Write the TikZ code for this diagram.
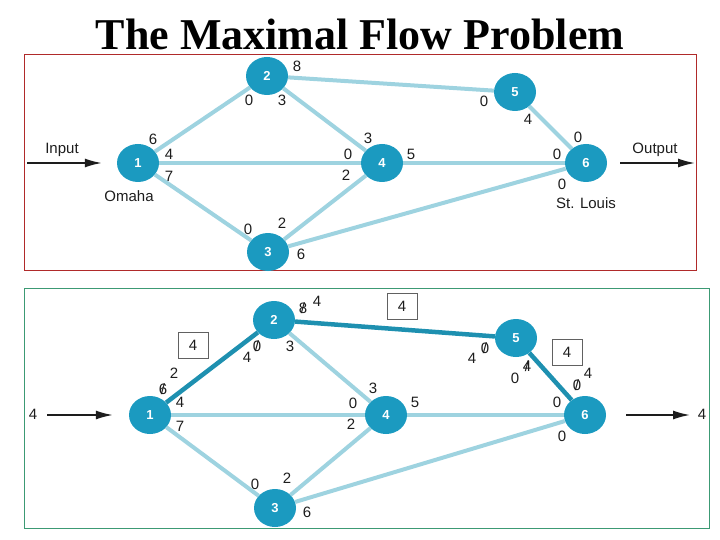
\documentclass[tikz,border=0pt]{standalone}
\usepackage{fontspec}
\setmainfont{Liberation Serif}
\setsansfont{Liberation Sans}
\usetikzlibrary{arrows.meta, positioning, shapes.geometric}
\definecolor{ink}{HTML}{1D1D1D}
\definecolor{cityfill}{HTML}{1B9AC0}
\definecolor{pipecol}{HTML}{9ED3E0}
\definecolor{flowcol}{HTML}{1E90B0}
\definecolor{topframe}{HTML}{B02A2A}
\definecolor{botframe}{HTML}{3C9A74}
\newcommand{\crossed}[1]{\ooalign{#1\cr\hidewidth/\hidewidth}}

\begin{document}
\begin{tikzpicture}[x=1pt, y=-1pt,
  city/.style={ellipse, fill=cityfill, minimum width=42pt, minimum height=38pt,
               inner sep=0pt, text=white, font=\sffamily\bfseries\fontsize{13}{13}\selectfont},
  pipe/.style={draw=pipecol, line width=4pt},
  used/.style={draw=flowcol, line width=4.5pt},
  num/.style={font=\sffamily\fontsize{15}{15}\selectfont, text=ink, inner sep=0pt},
  tag/.style={num, draw=ink!70, minimum width=30pt, minimum height=26pt},
  arr/.style={-{Latex[length=17pt, width=9pt]}, line width=1.6pt, draw=ink}
]
\useasboundingbox (0,0) rectangle (720,540);
\node[font=\bfseries\fontsize{44}{44}\selectfont, anchor=base] (title) at (360,50) {The Maximal Flow Problem};

% original network
\draw[topframe, thin] (24,54) rectangle (696,270);
\node[city] (a1) at (138,163) {1};
\node[city] (a2) at (267,76) {2};
\node[city] (a3) at (268,252) {3};
\node[city] (a4) at (382,163) {4};
\node[city] (a5) at (515,92) {5};
\node[city] (a6) at (586,163) {6};
\draw[pipe] (a1) -- (a2);
\draw[pipe] (a1) -- (a4);
\draw[pipe] (a1) -- (a3);
\draw[pipe] (a2) -- (a5);
\draw[pipe] (a2) -- (a4);
\draw[pipe] (a3) -- (a4);
\draw[pipe] (a3) -- (a6);
\draw[pipe] (a4) -- (a6);
\draw[pipe] (a5) -- (a6);
\coordinate (ain) at (27,163);
\coordinate (aout) at (695,163);
\draw[arr] (ain) -- ([xshift=-15pt]a1.west);
\draw[arr] ([xshift=13pt]a6.east) -- (aout);
\node[num] (input) at (62,150) {Input};
\node[num] (omaha) at (129,196) {Omaha};
\node[num] (output) at (655,150) {Output};
\node[num] (stl) at (586,203) {St. Louis};
\node[num] (a12) at (153,139) {6};
\node[num] (a14) at (169,154) {4};
\node[num] (a13) at (169,176) {7};
\node[num] (a21) at (249,100) {0};
\node[num] (a24) at (282,100) {3};
\node[num] (a25) at (297,66) {8};
\node[num] (a52) at (484,101) {0};
\node[num] (a56) at (528,119) {4};
\node[num] (a65) at (578,137) {0};
\node[num] (a64) at (557,154) {0};
\node[num] (a63) at (562,184) {0};
\node[num] (a42) at (368,138) {3};
\node[num] (a41) at (348,154) {0};
\node[num] (a43) at (346,175) {2};
\node[num] (a46) at (411,154) {5};
\node[num] (a31) at (248,229) {0};
\node[num] (a34) at (282,223) {2};
\node[num] (a36) at (301,254) {6};

% first path 1-2-5-6
\draw[botframe, thin] (24,288) rectangle (709,528);
\node[city] (b1) at (150,415) {1};
\node[city] (b2) at (274,320) {2};
\node[city] (b3) at (275,508) {3};
\node[city] (b4) at (386,415) {4};
\node[city] (b5) at (516,338) {5};
\node[city] (b6) at (585,415) {6};
\draw[pipe] (b1) -- (b4);
\draw[pipe] (b1) -- (b3);
\draw[pipe] (b2) -- (b4);
\draw[pipe] (b3) -- (b4);
\draw[pipe] (b3) -- (b6);
\draw[pipe] (b4) -- (b6);
\draw[used] (b1) -- (b2);
\draw[used] (b2) -- (b5);
\draw[used] (b5) -- (b6);
\coordinate (bin) at (47,415);
\coordinate (bout) at (690,415);
\draw[arr] (bin) -- ([xshift=-16pt]b1.west);
\draw[arr] ([xshift=20pt]b6.east) -- (bout);
\node[num] (bsrc) at (33,414) {4};
\node[num] (bsnk) at (702,414) {4};
\node[tag] (f12) at (193,345) {4};
\node[tag] (f25) at (402,306) {4};
\node[tag] (f56) at (567,352) {4};
\node[num] (b12) at (163,389) {\crossed{6}};
\node[num] (b12n) at (174,373) {2};
\node[num] (b14) at (180,402) {4};
\node[num] (b13) at (180,426) {7};
\node[num] (b21n) at (247,357) {4};
\node[num] (b21) at (257,346) {\crossed{0}};
\node[num] (b24) at (290,346) {3};
\node[num] (b25) at (303,308) {\crossed{8}};
\node[num] (b25n) at (317,301) {4};
\node[num] (b52n) at (472,358) {4};
\node[num] (b52) at (485,348) {\crossed{0}};
\node[num] (b56n) at (515,378) {0};
\node[num] (b56) at (527,366) {\crossed{4}};
\node[num] (b65) at (577,385) {\crossed{0}};
\node[num] (b65n) at (588,373) {4};
\node[num] (b64) at (557,402) {0};
\node[num] (b63) at (562,436) {0};
\node[num] (b42) at (373,388) {3};
\node[num] (b46) at (415,402) {5};
\node[num] (b41) at (353,403) {0};
\node[num] (b43) at (351,424) {2};
\node[num] (b31) at (255,484) {0};
\node[num] (b34) at (287,478) {2};
\node[num] (b36) at (307,512) {6};
\end{tikzpicture}
\end{document}
